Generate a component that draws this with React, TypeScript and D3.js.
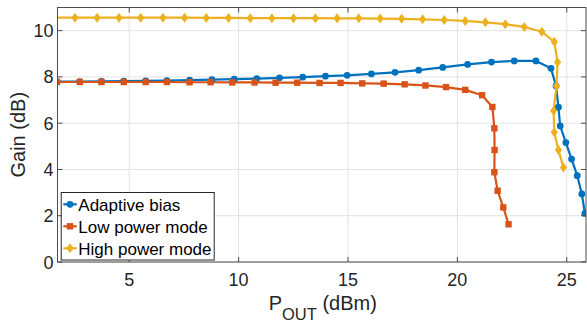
import React from "react";
import * as d3 from "d3";

const adaptiveX = [1.70, 2.74, 3.73, 4.75, 5.75, 6.72, 7.76, 8.78, 9.80, 10.83, 11.87, 12.93, 13.97, 14.96, 16.07, 17.15, 18.23, 19.33, 20.47, 21.56, 22.60, 23.59, 24.28, 24.51, 24.62, 24.70, 24.96, 25.22, 25.48, 25.69, 25.83];
const adaptiveY = [7.80, 7.80, 7.81, 7.82, 7.83, 7.84, 7.86, 7.88, 7.90, 7.93, 7.96, 7.99, 8.03, 8.07, 8.13, 8.20, 8.29, 8.41, 8.54, 8.64, 8.69, 8.69, 8.37, 7.61, 6.69, 5.88, 5.16, 4.45, 3.73, 2.94, 2.10];

const lowX = [1.70, 2.74, 3.73, 4.75, 5.75, 6.72, 7.76, 8.72, 9.71, 10.73, 11.69, 12.68, 13.70, 14.66, 15.65, 16.63, 17.59, 18.54, 19.48, 20.36, 21.13, 21.60, 21.69, 21.70, 21.69, 21.84, 22.10, 22.34];
const lowY = [7.78, 7.78, 7.78, 7.78, 7.78, 7.78, 7.77, 7.77, 7.76, 7.76, 7.75, 7.75, 7.74, 7.74, 7.72, 7.71, 7.68, 7.63, 7.56, 7.44, 7.21, 6.70, 5.78, 4.84, 3.88, 3.08, 2.36, 1.63];

const highX = [1.52, 2.52, 3.53, 4.53, 5.52, 6.54, 7.53, 8.52, 9.54, 10.53, 11.52, 12.51, 13.51, 14.50, 15.49, 16.47, 17.45, 18.41, 19.40, 20.36, 21.28, 22.19, 23.06, 23.86, 24.43, 24.58, 24.53, 24.40, 24.43, 24.62, 24.85];
const highY = [10.56, 10.56, 10.56, 10.56, 10.56, 10.56, 10.56, 10.55, 10.55, 10.54, 10.54, 10.54, 10.54, 10.53, 10.53, 10.52, 10.51, 10.49, 10.46, 10.42, 10.36, 10.28, 10.16, 9.95, 9.52, 8.63, 7.61, 6.54, 5.61, 4.84, 4.08];

const seriesNames = ["Adaptive bias", "Low power mode", "High power mode"];
const seriesColors = ["#0072BD", "#D95319", "#EDB120"];
const seriesMarkers = ["circle", "square", "diamond"];

const xTicks = [5, 10, 15, 20, 25];
const yTicks = [0, 2, 4, 6, 8, 10];

const W = 587, H = 325;
const L = 57.5, R = 586, T = 7.5, B = 262;
const FONT = "'Liberation Sans', Arial, Helvetica, sans-serif";

function Marker({ kind, x, y, color }: { kind: string; x: number; y: number; color: string }) {
  if (kind === "circle") return <circle cx={x} cy={y} r={3.4} fill={color} />;
  if (kind === "square") return <rect x={x - 3.2} y={y - 3.2} width={6.4} height={6.4} fill={color} />;
  return <path d={`M${x},${y - 5} L${x + 3.6},${y} L${x},${y + 5} L${x - 3.6},${y} Z`} fill={color} />;
}

export default function App() {
  const xs = d3.scaleLinear().domain([1.72, 25.88]).range([L, R]);
  const ys = d3.scaleLinear().domain([0, 11]).range([B, T]);
  const series = [
    { xsv: adaptiveX, ysv: adaptiveY },
    { xsv: lowX, ysv: lowY },
    { xsv: highX, ysv: highY },
  ].map((s, i) => ({
    name: seriesNames[i],
    color: seriesColors[i],
    marker: seriesMarkers[i],
    pts: s.xsv.map((x, j) => [x, s.ysv[j]] as [number, number]),
  }));
  const line = d3.line<[number, number]>().x((d) => xs(d[0])).y((d) => ys(d[1]));
  const [x0, x1] = xs.domain();
  const axisColor = "#4d4d4d";
  const legX = 61.2, legY = 192.5, legW = 153, legH = 67.5;

  return (
    <svg width={W} height={H} style={{ position: "fixed", left: 0, top: 0, background: "#fff" }} fontFamily={FONT}>
      <defs>
        <clipPath id="plotclip">
          <rect x={L} y={T} width={R - L} height={B - T} />
        </clipPath>
      </defs>
      <rect x={L} y={T} width={R - L} height={B - T} fill="#fff" />
      {xTicks.map((t) => (
        <line key={"gx" + t} x1={xs(t)} x2={xs(t)} y1={T} y2={B} stroke="#e3e3e3" strokeWidth={1} />
      ))}
      {yTicks.map((t) => (
        <line key={"gy" + t} x1={L} x2={R} y1={ys(t)} y2={ys(t)} stroke="#e3e3e3" strokeWidth={1} />
      ))}
      <g clipPath="url(#plotclip)">
        {series.map((s) => (
          <path key={s.name} d={line(s.pts) || ""} fill="none" stroke={s.color} strokeWidth={2.2} strokeLinejoin="round" />
        ))}
        {series.map((s) =>
          s.pts
            .filter((p) => p[0] >= x0 - 0.05 && p[0] <= x1 + 0.05)
            .map((p, j) => <Marker key={s.name + j} kind={s.marker} x={xs(p[0])} y={ys(p[1])} color={s.color} />)
        )}
      </g>
      <rect x={L} y={T} width={R - L} height={B - T} fill="none" stroke={axisColor} strokeWidth={1} />
      {xTicks.map((t) => (
        <g key={"xt" + t}>
          <line x1={xs(t)} x2={xs(t)} y1={B} y2={B - 5} stroke={axisColor} />
          <line x1={xs(t)} x2={xs(t)} y1={T} y2={T + 5} stroke={axisColor} />
          <text x={xs(t)} y={B + 24} textAnchor="middle" fontSize={18} fill="#262626">{t}</text>
        </g>
      ))}
      {yTicks.map((t) => (
        <g key={"yt" + t}>
          <line x1={L} x2={L + 5} y1={ys(t)} y2={ys(t)} stroke={axisColor} />
          <line x1={R} x2={R - 5} y1={ys(t)} y2={ys(t)} stroke={axisColor} />
          <text x={L - 4} y={ys(t) + 6.5} textAnchor="end" fontSize={18} fill="#262626">{t}</text>
        </g>
      ))}
      <text x={(L + R) / 2 + 1} y={310} textAnchor="middle" fontSize={20} fill="#262626">
        P<tspan fontSize={16.5} dy={10}>OUT</tspan><tspan dy={-10}> (dBm)</tspan>
      </text>
      <text transform={`translate(25,${(T + B) / 2}) rotate(-90)`} textAnchor="middle" fontSize={20} fill="#262626">
        Gain (dB)
      </text>
      <rect x={legX} y={legY} width={legW} height={legH} fill="#fff" stroke="#262626" strokeWidth={1} />
      {series.map((s, i) => {
        const cy = legY + 11.8 + i * 22;
        return (
          <g key={"leg" + i}>
            <line x1={63.3} x2={76.7} y1={cy} y2={cy} stroke={s.color} strokeWidth={2.2} />
            <Marker kind={s.marker} x={70} y={cy} color={s.color} />
            <text x={78.3} y={cy + 6.3} fontSize={17} fill="#000">{s.name}</text>
          </g>
        );
      })}
    </svg>
  );
}
